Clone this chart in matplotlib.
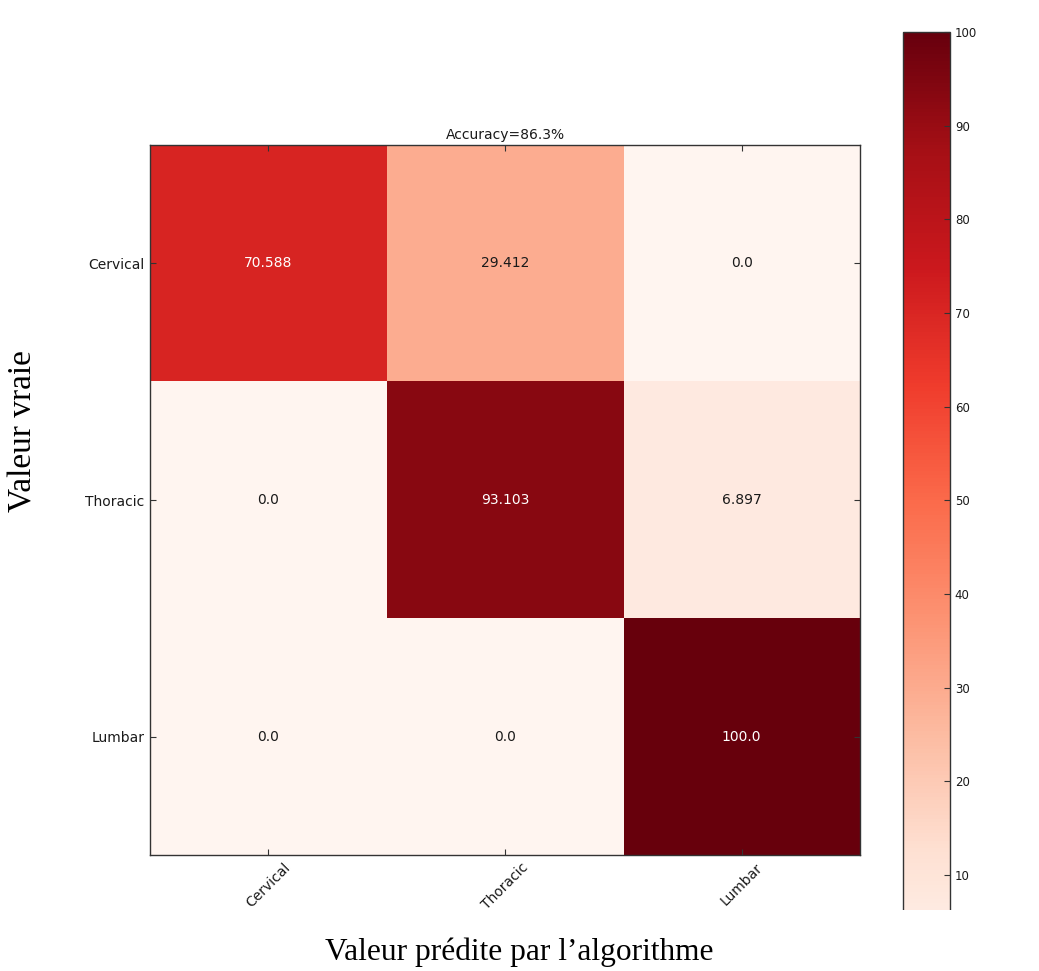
import numpy as np
import matplotlib
matplotlib.use("Agg")
import matplotlib.pyplot as plt
from matplotlib.patches import Rectangle

plt.rcParams["font.family"] = ["DejaVu Sans"]

classes = ["Cervical", "Thoracic", "Lumbar"]
row_cervical = [70.588, 29.412, 0.0]
row_thoracic = [0.0, 93.103, 6.897]
row_lumbar = [0.0, 0.0, 100.0]
accuracy = 86.3
colorbar_ticks = [10, 20, 30, 40, 50, 60, 70, 80, 90, 100]

cm = np.array([row_cervical, row_thoracic, row_lumbar])

W, H = 1039, 971
fig = plt.figure(figsize=(W / 100, H / 100), dpi=100)

ax = fig.add_axes([150 / W, 1 - 855 / H, 710 / W, 710 / H])
im = ax.imshow(cm, cmap="Reds", vmin=0, vmax=100, interpolation="nearest",
               aspect="auto")

thresh = cm.max() / 2.0
for i in range(cm.shape[0]):
    for j in range(cm.shape[1]):
        ax.text(j, i, f"{cm[i, j]}", ha="center", va="center", fontsize=10,
                color="white" if cm[i, j] > thresh else "#1a1a1a")

ax.set_title(f"Accuracy={accuracy}%", fontsize=10, color="#1a1a1a", pad=4)
ax.set_xticks(range(len(classes)))
ax.set_yticks(range(len(classes)))
ax.set_xticklabels(classes, rotation=45, fontsize=10, color="#1a1a1a")
ax.set_yticklabels(classes, fontsize=10, color="#1a1a1a")
ax.tick_params(direction="in", top=True, right=True, length=4, width=0.8,
               color="#333333", pad=4)
for s in ax.spines.values():
    s.set_color("#333333")
    s.set_linewidth(1.0)

cax = fig.add_axes([903 / W, 1 - 968.7 / H, 47 / W, (968.7 - 32) / H])
cb = fig.colorbar(im, cax=cax, ticks=colorbar_ticks)
cb.ax.tick_params(direction="in", length=4, width=0.8, labelsize=8.5,
                  color="#333333", labelcolor="#1a1a1a")
cb.outline.set_edgecolor("#333333")
cb.outline.set_linewidth(1.0)

# blank band across the foot of the colour bar
fig.patches.append(Rectangle((880 / W, 0), 1 - 880 / W, 1 - 910 / H,
                             transform=fig.transFigure, facecolor="white",
                             edgecolor="none", zorder=10))

fig.text(519 / W, 1 - 952 / H, "Valeur prédite par l’algorithme",
         family="Liberation Serif", fontsize=22.6, ha="center", va="center",
         color="black", zorder=11)
fig.text(23 / W, 1 - 431 / H, "Valeur vraie", family="Liberation Serif",
         fontsize=24, rotation=90, ha="center", va="center", color="black",
         zorder=11)

fig.savefig("out.png", dpi=100, facecolor="white")
